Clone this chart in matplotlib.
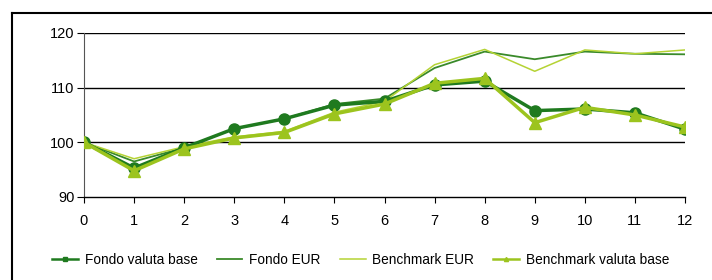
import matplotlib
matplotlib.use('Agg')
import matplotlib.pyplot as plt
from matplotlib.lines import Line2D

plt.rcParams['font.family'] = ['Liberation Sans', 'DejaVu Sans']

mesi = list(range(13))
fondo_valuta_base = [100, 95.3, 99.0, 102.5, 104.3, 106.8, 107.5, 110.5, 111.2, 105.8, 106.1, 105.4, 102.4]
fondo_eur = [100, 96.5, 99.0, 102.5, 104.3, 107.0, 108.0, 113.6, 116.6, 115.2, 116.6, 116.2, 116.1]
benchmark_eur = [100, 97.0, 99.2, 101.0, 102.0, 105.5, 107.5, 114.2, 117.0, 113.0, 116.9, 116.2, 116.9]
benchmark_valuta_base = [100, 94.8, 98.8, 100.8, 101.8, 105.2, 107.0, 110.8, 111.7, 103.6, 106.4, 105.0, 102.8]

verde_scuro = '#1f7a1f'
verde_eur = '#3a8a2a'
verde_chiaro = '#b5d334'
verde_bench = '#9cc41e'

fig = plt.figure(figsize=(7.12, 2.8), dpi=100)
ax = fig.add_axes([84 / 712, 83 / 280, 601 / 712, 164 / 280])

# cornice esterna (lati sinistro e superiore)
x0, y0 = 11.5 / 712, 1 - 12.5 / 280
fig.add_artist(Line2D([x0, x0], [0, y0], transform=fig.transFigure, color='black', lw=1.5))
fig.add_artist(Line2D([x0, 1], [y0, y0], transform=fig.transFigure, color='black', lw=1.5))

l1, = ax.plot(mesi, fondo_valuta_base, color=verde_scuro, lw=2.5, marker='o', ms=8, zorder=4)
l2, = ax.plot(mesi, fondo_eur, color=verde_eur, lw=1.3, zorder=3)
l3, = ax.plot(mesi, benchmark_eur, color=verde_chiaro, lw=1.1, zorder=3)
l4, = ax.plot(mesi, benchmark_valuta_base, color=verde_bench, lw=2.5, marker='^', ms=8, zorder=5)

ax.set_xlim(0, 12)
ax.set_ylim(90, 120)
ax.set_xticks(mesi)
ax.set_yticks([90, 100, 110, 120])
for y in [100, 110, 120]:
    ax.axhline(y, color='black', lw=1, zorder=1)
ax.spines['top'].set_visible(False)
ax.spines['right'].set_visible(False)
ax.spines['left'].set_color('#555555')
ax.spines['left'].set_linewidth(0.8)
ax.spines['bottom'].set_linewidth(1)
ax.tick_params(axis='y', length=5, width=0.8, pad=2, labelsize=10.5)
ax.tick_params(axis='x', length=4, width=0.8, pad=8, labelsize=10.5)

h1 = Line2D([], [], color=verde_scuro, lw=1.8, marker='s', ms=3)
h4 = Line2D([], [], color=verde_bench, lw=1.8, marker='^', ms=3)
fig.legend([h1, l2, l3, h4],
           ['Fondo valuta base', 'Fondo EUR', 'Benchmark EUR', 'Benchmark valuta base'],
           loc='center left', bbox_to_anchor=(52 / 712, 20 / 280), ncol=4, frameon=False,
           fontsize=9.8, handlelength=1.9, handletextpad=0.5, columnspacing=1.4,
           borderaxespad=0, borderpad=0)

fig.savefig('out.png', dpi=100)
